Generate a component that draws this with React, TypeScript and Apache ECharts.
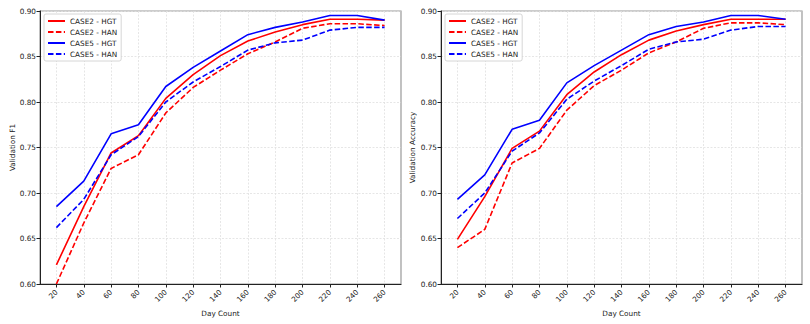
import React, { useEffect, useRef } from "react";
import * as echarts from "echarts";

const days = [20, 40, 60, 80, 100, 120, 140, 160, 180, 200, 220, 240, 260];

const f1Case2Hgt = [0.621, 0.685, 0.744, 0.763, 0.804, 0.830, 0.851, 0.867, 0.877, 0.885, 0.891, 0.891, 0.890];
const f1Case2Han = [0.600, 0.667, 0.727, 0.742, 0.788, 0.816, 0.835, 0.853, 0.866, 0.881, 0.886, 0.886, 0.884];
const f1Case5Hgt = [0.685, 0.713, 0.765, 0.775, 0.817, 0.838, 0.856, 0.874, 0.882, 0.888, 0.895, 0.895, 0.890];
const f1Case5Han = [0.662, 0.693, 0.742, 0.762, 0.800, 0.822, 0.839, 0.857, 0.865, 0.868, 0.879, 0.882, 0.882];

const accCase2Hgt = [0.649, 0.696, 0.749, 0.768, 0.808, 0.833, 0.852, 0.868, 0.878, 0.885, 0.891, 0.891, 0.891];
const accCase2Han = [0.640, 0.660, 0.733, 0.749, 0.791, 0.818, 0.835, 0.854, 0.866, 0.881, 0.887, 0.887, 0.885];
const accCase5Hgt = [0.693, 0.720, 0.770, 0.780, 0.821, 0.840, 0.857, 0.874, 0.883, 0.888, 0.895, 0.895, 0.891];
const accCase5Han = [0.672, 0.700, 0.746, 0.766, 0.803, 0.823, 0.840, 0.858, 0.866, 0.869, 0.879, 0.883, 0.883];

const seriesNames = ["CASE2 - HGT", "CASE2 - HAN", "CASE5 - HGT", "CASE5 - HAN"];
const RED = "#ff0000";
const BLUE = "#0000ff";
const FONT = "DejaVu Sans";

export default function App() {
  const ref = useRef<HTMLDivElement>(null);
  useEffect(() => {
    if (!ref.current) return;
    const chart = echarts.init(ref.current, undefined, { renderer: "svg" });

    const mk = (name: string, arr: number[], color: string, dashed: boolean, idx: number) => ({
      type: "line",
      name,
      xAxisIndex: idx,
      yAxisIndex: idx,
      data: days.map((d, i) => [d, arr[i]]),
      symbol: "none",
      showSymbol: false,
      lineStyle: { color, width: 1.6, type: dashed ? [5.5, 2.4] : "solid" },
      itemStyle: { color },
      z: 3,
    });

    const xAxisBase = (gridIndex: number) => ({
      type: "value",
      gridIndex,
      min: 8,
      max: 272,
      name: "Day Count",
      nameLocation: "middle",
      nameGap: 26,
      nameTextStyle: { fontFamily: FONT, fontSize: 7.3, color: "#222" },
      axisLine: { show: true, onZero: false, lineStyle: { color: "#222", width: 1 } },
      axisTick: { show: true, length: 3.5, lineStyle: { color: "#222" }, customValues: days },
      axisLabel: {
        customValues: days,
        rotate: 45,
        margin: 7,
        fontFamily: FONT,
        fontSize: 7.3,
        color: "#222",
      },
      splitLine: { show: true, lineStyle: { color: "#e0e0e0", width: 0.8, type: [2, 1.5] } },
    });

    const yAxisBase = (gridIndex: number, name: string, nameGap: number) => ({
      type: "value",
      gridIndex,
      min: 0.6,
      max: 0.9,
      interval: 0.05,
      name,
      nameLocation: "middle",
      nameGap,
      nameTextStyle: { fontFamily: FONT, fontSize: 7.3, color: "#222" },
      axisLine: { show: true, lineStyle: { color: "#222", width: 1 } },
      axisTick: { show: true, length: 3.5, lineStyle: { color: "#222" } },
      axisLabel: {
        fontFamily: FONT,
        fontSize: 7.3,
        color: "#222",
        margin: 4,
        formatter: (v: number) => v.toFixed(2),
      },
      splitLine: { show: true, lineStyle: { color: "#e0e0e0", width: 0.8, type: [2, 1.5] } },
    });

    const legendBase = (left: number) => ({
      orient: "vertical",
      left,
      top: 14,
      data: seriesNames,
      itemWidth: 17,
      itemHeight: 8,
      itemGap: 3,
      padding: [3, 4, 3, 3],
      backgroundColor: "#ffffff",
      borderColor: "#cccccc",
      borderWidth: 0.8,
      borderRadius: 2,
      itemStyle: { opacity: 0 },
      textStyle: { fontFamily: FONT, fontSize: 7.3, color: "#222", lineHeight: 8 },
      selectedMode: false,
    });

    chart.setOption({
      animation: false,
      backgroundColor: "#ffffff",
      textStyle: { fontFamily: FONT },
      grid: [
        { left: 40, top: 11, width: 361, height: 273, show: true, borderColor: "#999", borderWidth: 1.2, backgroundColor: "transparent" },
        { left: 441, top: 11, width: 361, height: 273, show: true, borderColor: "#999", borderWidth: 1.2, backgroundColor: "transparent" },
      ],
      xAxis: [xAxisBase(0), xAxisBase(1)],
      yAxis: [yAxisBase(0, "Validation F1", 24), yAxisBase(1, "Validation Accuracy", 25)],
      legend: [legendBase(44), legendBase(445)],
      series: [
        mk(seriesNames[0], f1Case2Hgt, RED, false, 0),
        mk(seriesNames[1], f1Case2Han, RED, true, 0),
        mk(seriesNames[2], f1Case5Hgt, BLUE, false, 0),
        mk(seriesNames[3], f1Case5Han, BLUE, true, 0),
        mk(seriesNames[0], accCase2Hgt, RED, false, 1),
        mk(seriesNames[1], accCase2Han, RED, true, 1),
        mk(seriesNames[2], accCase5Hgt, BLUE, false, 1),
        mk(seriesNames[3], accCase5Han, BLUE, true, 1),
      ],
    });
    return () => chart.dispose();
  }, []);
  return <div ref={ref} style={{ width: 810, height: 324, position: "absolute", left: 0, top: 0 }} />;
}
